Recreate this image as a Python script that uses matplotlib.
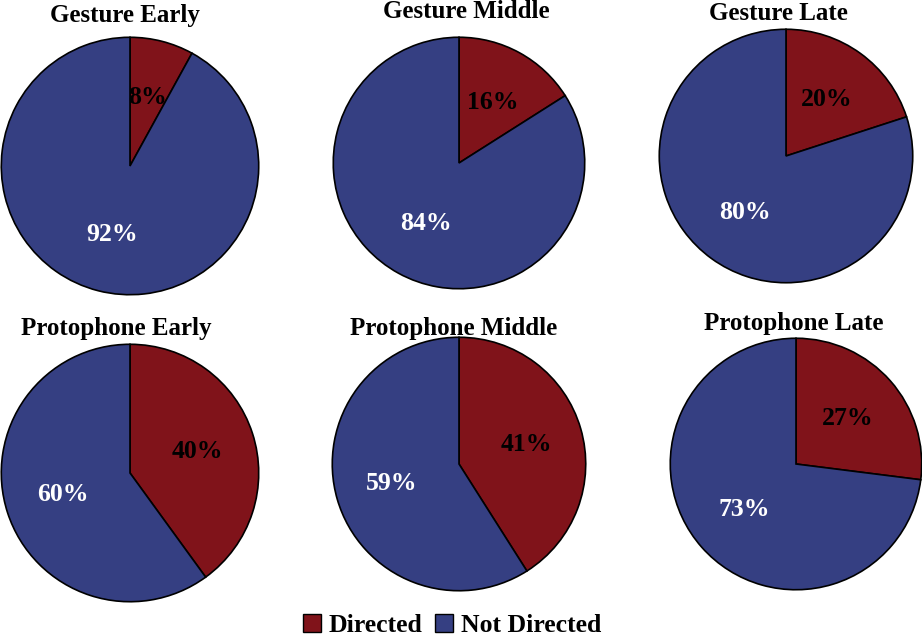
import matplotlib.pyplot as plt
from matplotlib.patches import Patch

titles = ["Gesture Early", "Gesture Middle", "Gesture Late",
          "Protophone Early", "Protophone Middle", "Protophone Late"]
directed = [8, 16, 20, 40, 41, 27]
not_directed = [92, 84, 80, 60, 59, 73]
legend_labels = ["Directed", "Not Directed"]

RED = "#80131A"
BLUE = "#353F82"
W, H = 922, 636

# pie centre x, centre y, radius, title x, title baseline (pixels, top-left origin)
layout = [
    (130, 166, 130, 125, 22),
    (459, 163, 127, 466, 18.5),
    (786, 156, 128, 778, 20),
    (130, 473, 130, 116, 335),
    (459, 464, 128, 454, 335),
    (796, 464, 127, 794, 330),
]

plt.rcParams['font.family'] = ['Liberation Serif', 'DejaVu Serif']
plt.rcParams['font.weight'] = 'bold'

fig = plt.figure(figsize=(W / 100, H / 100), dpi=100)

for i, (cx, cy, r, tx, ty) in enumerate(layout):
    ax = fig.add_axes([(cx - r) / W, (H - cy - r) / H, 2 * r / W, 2 * r / H])
    wedges, texts, autotexts = ax.pie(
        [directed[i], not_directed[i]],
        colors=[RED, BLUE],
        startangle=90,
        counterclock=False,
        radius=1,
        autopct='%1.0f%%',
        pctdistance=0.55,
        wedgeprops=dict(edgecolor='black', linewidth=1.2),
    )
    autotexts[0].set_color('black')
    autotexts[1].set_color('white')
    for t in autotexts:
        t.set_fontsize(18.5)
        t.set_fontweight('bold')
    ax.set_xlim(-1.01, 1.01)
    ax.set_ylim(-1.01, 1.01)
    ax.set_aspect('equal')
    ax.axis('off')
    fig.text(tx / W, 1 - ty / H, titles[i], ha='center', va='baseline',
             fontsize=18, fontweight='bold')

handles = [Patch(facecolor=RED, edgecolor='black'),
           Patch(facecolor=BLUE, edgecolor='black')]
fig.legend(handles, legend_labels, loc='center', bbox_to_anchor=(452 / W, 1 - 625 / H),
           ncol=2, frameon=False, fontsize=18.5, handlelength=0.7, handleheight=0.7,
           handletextpad=0.3, columnspacing=0.5, borderaxespad=0)

fig.savefig("out.png", dpi=100)
